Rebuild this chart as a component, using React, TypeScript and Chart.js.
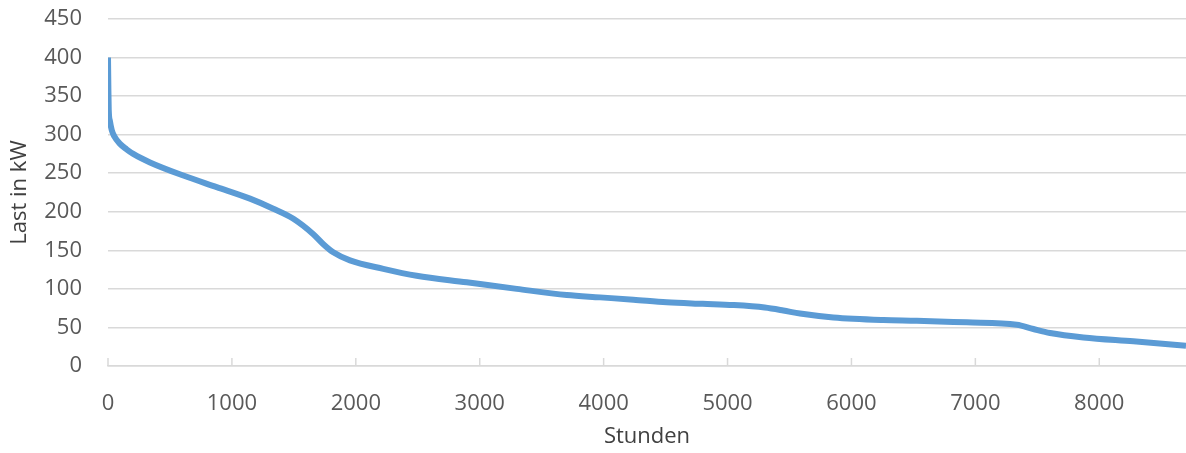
import React, { useEffect, useRef } from "react";
import { Chart, registerables } from "chart.js";

Chart.register(...registerables);

const hours: number[] = [0, 3, 6, 15, 30, 50, 97, 150, 204, 339, 608, 877, 1146, 1334, 1496, 1657, 1738, 1818, 1953, 2222, 2491, 2895, 3299, 3702, 3971, 4240, 4509, 4800, 5047, 5300, 5450, 5585, 5854, 6258, 6527, 6930, 7334, 7468, 7603, 7872, 8275, 8700];
const loadKW: number[] = [400, 360, 332, 318, 306, 298, 288, 281, 275, 264, 247, 232, 217, 204, 191, 171, 158, 147.5, 137, 126, 117, 108.6, 100, 92, 89, 86, 82.6, 80.6, 79, 75.8, 72, 68, 63, 59.7, 58.8, 56.6, 53.6, 48, 42.8, 37, 32, 26.4];
const xTickValues: number[] = [0, 1000, 2000, 3000, 4000, 5000, 6000, 7000, 8000];
const xMax = 8700;
const yMax = 450;
const yStep = 50;
const xTitle = "Stunden";
const yTitle = "Last in kW";

const FONT = "'Open Sans', sans-serif";

const upTicks = {
  id: "upTicks",
  afterDatasetsDraw(chart: any) {
    const xs = chart.scales.x;
    const ctx = chart.ctx;
    const bottom = chart.chartArea.bottom;
    ctx.save();
    ctx.strokeStyle = "#d9d9d9";
    ctx.lineWidth = 1.5;
    xs.ticks.forEach((t: any) => {
      const px = xs.getPixelForValue(t.value);
      ctx.beginPath();
      ctx.moveTo(px, bottom);
      ctx.lineTo(px, bottom - 8);
      ctx.stroke();
    });
    ctx.restore();
  },
};

export default function App() {
  const ref = useRef<HTMLCanvasElement>(null);
  useEffect(() => {
    if (!ref.current) return;
    const chart = new Chart(ref.current, {
      type: "line",
      data: {
        datasets: [
          {
            data: hours.map((h, i) => ({ x: h, y: loadKW[i] })),
            borderColor: "#5b9bd5",
            borderWidth: 6,
            pointRadius: 0,
            cubicInterpolationMode: "monotone",
            fill: false,
          },
        ],
      },
      options: {
        animation: false,
        responsive: false,
        maintainAspectRatio: false,
        layout: { padding: { top: 19, right: 0, left: 0, bottom: 0 } },
        plugins: { legend: { display: false }, tooltip: { enabled: false } },
        scales: {
          x: {
            type: "linear",
            min: 0,
            max: xMax,
            grid: { display: false },
            border: { display: true, color: "#d9d9d9", width: 1.5 },
            ticks: {
              color: "#595959",
              font: { family: FONT, size: 22 },
              padding: 17,
              maxRotation: 0,
              autoSkip: false,
              callback: (v: any) => String(v),
            },
            afterBuildTicks: (scale: any) => {
              scale.ticks = xTickValues.map((v) => ({ value: v }));
            },
            afterFit: (scale: any) => {
              scale.height = 87;
              scale.paddingLeft = 0;
              scale.paddingRight = 0;
            },
            title: {
              display: true,
              text: xTitle,
              color: "#404040",
              font: { family: FONT, size: 22 },
              padding: { top: 0, bottom: 3 },
            },
          },
          y: {
            min: 0,
            max: yMax,
            grid: { color: "#d9d9d9", lineWidth: 1.5, drawTicks: false },
            border: { display: false },
            ticks: {
              stepSize: yStep,
              color: "#595959",
              font: { family: FONT, size: 22 },
              padding: 26,
              callback: (v: any) => String(v),
            },
            afterFit: (scale: any) => {
              scale.width = 108;
              scale.paddingTop = 0;
              scale.paddingBottom = 0;
            },
            title: {
              display: true,
              text: yTitle,
              color: "#404040",
              font: { family: FONT, size: 22 },
              padding: { top: 7, bottom: 0 },
            },
          },
        },
      },
      plugins: [upTicks],
    } as any);
    return () => chart.destroy();
  }, []);
  return (
    <div style={{ position: "absolute", left: 0, top: 0, width: 1186, height: 453, background: "#fff" }}>
      <canvas ref={ref} width={1186} height={453} style={{ width: 1186, height: 453 }} />
    </div>
  );
}
